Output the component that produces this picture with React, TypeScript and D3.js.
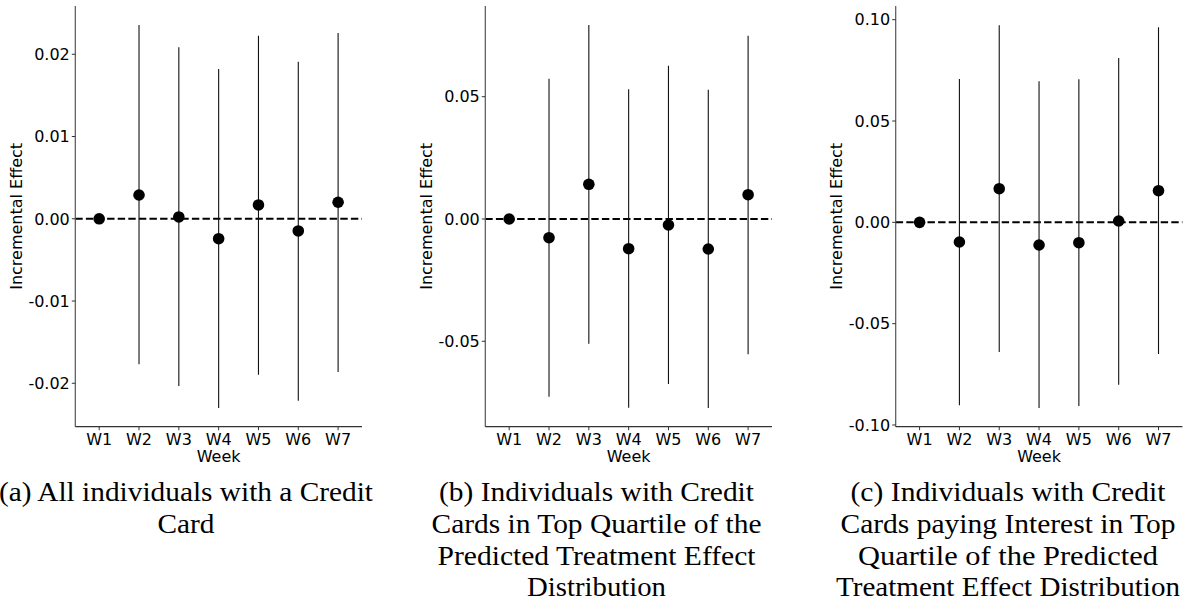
import React from "react";
import * as d3 from "d3";

const weeks = ["W1", "W2", "W3", "W4", "W5", "W6", "W7"];

// Panel (a)
const estA = [0, 0.00289, 0.00022, -0.00242, 0.00168, -0.00148, 0.00201];
const hiA = [null, 0.02356, 0.02085, 0.01821, 0.02226, 0.0191, 0.02259];
const loA = [null, -0.01769, -0.02033, -0.023, -0.01895, -0.02212, -0.01863];
const ticksA = [-0.02, -0.01, 0, 0.01, 0.02];
const domainA = [-0.02528, 0.02587];

// Panel (b)
const estB = [0, -0.00764, 0.01418, -0.01215, -0.00245, -0.01227, 0.00994];
const hiB = [null, 0.05737, 0.07931, 0.05302, 0.06267, 0.05288, 0.07494];
const loB = [null, -0.07265, -0.05098, -0.07715, -0.06746, -0.07727, -0.05531];
const ticksB = [-0.05, 0, 0.05];
const domainB = [-0.08492, 0.08708];

// Panel (c)
const estC = [0, -0.0097, 0.0166, -0.01118, -0.01004, 0.00067, 0.01562];
const hiC = [null, 0.07074, 0.09724, 0.0696, 0.07059, 0.0811, 0.09625];
const loC = [null, -0.09028, -0.06398, -0.09161, -0.09062, -0.08011, -0.06496];
const ticksC = [-0.1, -0.05, 0, 0.05, 0.1];
const domainC = [-0.10084, 0.10676];

const captionA = ["(a) All individuals with a Credit", "Card"];
const captionB = [
  "(b) Individuals with Credit",
  "Cards in Top Quartile of the",
  "Predicted Treatment Effect",
  "Distribution",
];
const captionC = [
  "(c) Individuals with Credit",
  "Cards paying Interest in Top",
  "Quartile of the Predicted",
  "Treatment Effect Distribution",
];

// rendered widths of caption lines (layout)
const captionWidthsA = [374, 57];
const captionWidthsB = [315, 330, 318, 139];
const captionWidthsC = [315, 335, 300, 344];

const yLabel = "Incremental Effect";
const xLabel = "Week";

const sans = "'DejaVu Sans', sans-serif";
const serif = "'Liberation Serif', 'Times New Roman', serif";

type PanelProps = {
  left: number;
  labelX: number;
  captionX: number;
  est: number[];
  hi: (number | null)[];
  lo: (number | null)[];
  ticks: number[];
  domain: number[];
  caption: string[];
  captionWidths: number[];
};

const TOP = 6;
const BOTTOM = 426.7;
const WIDTH = 286.7;

function Panel({ left, labelX, captionX, est, hi, lo, ticks, domain, caption, captionWidths }: PanelProps) {
  const x = d3.scalePoint<string>().domain(weeks).range([left, left + WIDTH]).padding(0.6);
  const y = d3.scaleLinear().domain(domain).range([BOTTOM, TOP]);
  const fmt = (v: number) => d3.format(".2f")(v).replace("\u2212", "-");
  const right = left + WIDTH;
  return (
    <g>
      <line
        x1={left}
        x2={right}
        y1={y(0)}
        y2={y(0)}
        stroke="#000"
        strokeWidth={2}
        strokeDasharray="7.4,3.2"
      />
      {weeks.map((w, i) =>
        hi[i] == null || lo[i] == null ? null : (
          <line
            key={"e" + w}
            x1={x(w)}
            x2={x(w)}
            y1={y(lo[i] as number)}
            y2={y(hi[i] as number)}
            stroke="#111"
            strokeWidth={1.1}
          />
        )
      )}
      {weeks.map((w, i) => (
        <circle key={"p" + w} cx={x(w)} cy={y(est[i])} r={5.8} fill="#000" />
      ))}
      <line x1={left} x2={left} y1={TOP} y2={BOTTOM} stroke="#555" strokeWidth={1.2} />
      <line x1={left} x2={right} y1={BOTTOM} y2={BOTTOM} stroke="#333" strokeWidth={1.2} />
      {ticks.map((t) => (
        <g key={"yt" + t}>
          <line x1={left - 3.5} x2={left} y1={y(t)} y2={y(t)} stroke="#333" strokeWidth={1} />
          <text
            x={left - 5.5}
            y={y(t)}
            dy="0.36em"
            textAnchor="end"
            fontFamily={sans}
            fontSize={16}
            fill="#000"
          >
            {fmt(t)}
          </text>
        </g>
      ))}
      {weeks.map((w) => (
        <g key={"xt" + w}>
          <line x1={x(w)} x2={x(w)} y1={BOTTOM} y2={BOTTOM + 3.5} stroke="#333" strokeWidth={1} />
          <text x={x(w)} y={445} textAnchor="middle" fontFamily={sans} fontSize={16} fill="#000">
            {w}
          </text>
        </g>
      ))}
      <text
        x={(left + right) / 2}
        y={462.3}
        textAnchor="middle"
        fontFamily={sans}
        fontSize={16}
        fill="#000"
      >
        {xLabel}
      </text>
      <text
        transform={`translate(${labelX},${(TOP + BOTTOM) / 2}) rotate(-90)`}
        dy="0.36em"
        textAnchor="middle"
        fontFamily={sans}
        fontSize={16}
        fill="#000"
      >
        {yLabel}
      </text>
      {caption.map((line, i) => (
        <text
          key={"c" + i}
          x={captionX}
          y={501 + i * 31.8}
          textAnchor="middle"
          fontFamily={serif}
          fontSize={26.5}
          textLength={captionWidths[i]}
          lengthAdjust="spacingAndGlyphs"
          fill="#000"
        >
          {line}
        </text>
      ))}
    </g>
  );
}

export default function App() {
  return (
    <svg
      width={1184}
      height={603}
      style={{ position: "absolute", left: 0, top: 0, background: "#fff" }}
    >
      <rect width={1184} height={603} fill="#fff" />
      <Panel
        left={75.3}
        labelX={16.7}
        captionX={186}
        est={estA}
        hi={hiA}
        lo={loA}
        ticks={ticksA}
        domain={domainA}
        caption={captionA}
        captionWidths={captionWidthsA}
      />
      <Panel
        left={485.3}
        labelX={426.7}
        captionX={596.5}
        est={estB}
        hi={hiB}
        lo={loB}
        ticks={ticksB}
        domain={domainB}
        caption={captionB}
        captionWidths={captionWidthsB}
      />
      <Panel
        left={895.7}
        labelX={836.7}
        captionX={1008}
        est={estC}
        hi={hiC}
        lo={loC}
        ticks={ticksC}
        domain={domainC}
        caption={captionC}
        captionWidths={captionWidthsC}
      />
    </svg>
  );
}
